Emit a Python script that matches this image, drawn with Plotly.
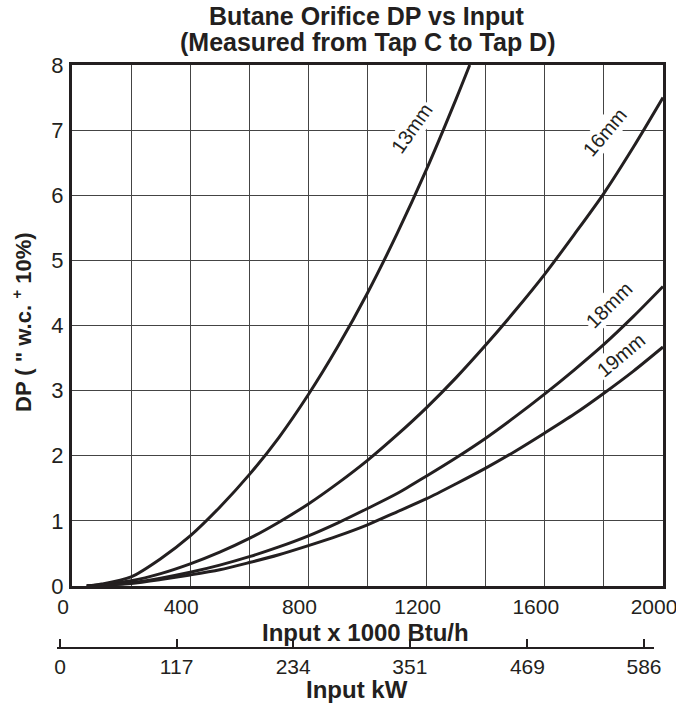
import plotly.graph_objects as go

# ---------------- data ----------------
btu_13 = [50, 100, 200, 300, 400, 500, 600, 700, 800, 900, 1000, 1100, 1200, 1300, 1346]
dp_13 = [0.0, 0.03, 0.14, 0.42, 0.77, 1.21, 1.71, 2.28, 2.94, 3.68, 4.50, 5.41, 6.40, 7.48, 8.0]

btu_all = [50, 100, 200, 300, 400, 500, 600, 700, 800, 900, 1000,
           1100, 1200, 1300, 1400, 1500, 1600, 1700, 1800, 1900, 2000]
dp_16 = [0.0, 0.02, 0.08, 0.19, 0.34, 0.52, 0.73, 0.98, 1.26, 1.58, 1.93,
         2.32, 2.74, 3.20, 3.70, 4.23, 4.79, 5.40, 6.03, 6.74, 7.50]
dp_18 = [0.0, 0.01, 0.05, 0.12, 0.21, 0.32, 0.45, 0.60, 0.77, 0.97, 1.19,
         1.42, 1.69, 1.97, 2.27, 2.60, 2.95, 3.32, 3.71, 4.14, 4.60]
dp_19 = [0.0, 0.01, 0.04, 0.10, 0.17, 0.25, 0.36, 0.48, 0.62, 0.77, 0.94,
         1.14, 1.34, 1.57, 1.81, 2.07, 2.35, 2.64, 2.96, 3.30, 3.67]

series_names = ["13mm", "16mm", "18mm", "19mm"]
label_btu = [1151, 1804, 1817, 1858]
label_dp = [7.03, 6.97, 4.32, 3.55]
label_angle = [-55, -50, -45, -40]

btu_ticks = [0, 400, 800, 1200, 1600, 2000]
kw_ticks = [0, 117, 234, 351, 469, 586]
dp_ticks = [0, 1, 2, 3, 4, 5, 6, 7, 8]

title_lines = ["Butane Orifice DP vs Input", "(Measured from Tap C to Tap D)"]

# ---------------- layout helpers ----------------
W, H = 676, 715
FONT = "Liberation Sans, Arial, sans-serif"
INK = "#231f20"
GRID = "#444444"

def fx(p):
    return p / W

def fy(p):
    return 1 - p / H

PL, PR, PT, PB = 72, 663, 65, 586

fig = go.Figure()
xs = [btu_13, btu_all, btu_all, btu_all]
ys = [dp_13, dp_16, dp_18, dp_19]
for name, x, y in zip(series_names, xs, ys):
    fig.add_trace(go.Scatter(x=x, y=y, mode="lines", name=name,
                             line=dict(color=INK, width=3, shape="spline", smoothing=0.8),
                             showlegend=False, hoverinfo="skip"))

# invisible trace to carry the kW axis
fig.add_trace(go.Scatter(x=[kw_ticks[0], kw_ticks[-1]], y=[0, 0], xaxis="x2", yaxis="y2",
                         mode="markers", marker=dict(size=1, opacity=0),
                         showlegend=False, hoverinfo="skip"))

for name, qx, qy, ang in zip(series_names, label_btu, label_dp, label_angle):
    fig.add_annotation(x=qx, y=qy, xref="x", yref="y", text=name, textangle=ang,
                       xanchor="center", yanchor="middle",
                       showarrow=False, font=dict(family=FONT, size=20, color=INK),
                       bgcolor="white", borderpad=1)

def paper_text(txt, xc, yc, size, angle=0):
    fig.add_annotation(x=fx(xc), y=fy(yc), xref="paper", yref="paper",
                       xanchor="center", yanchor="middle", textangle=angle,
                       text=txt, showarrow=False,
                       font=dict(family=FONT, size=size, color=INK))

# chart title (two lines)
paper_text("<b>" + title_lines[0] + "</b>", 367, 16, 25)
paper_text("<b>" + title_lines[1] + "</b>", 367, 42, 25)

paper_text("<b>DP ( \" w.c. <sup>+</sup> 10%)</b>", 22, 322, 22, angle=-90)
paper_text("<b>Input x 1000 Btu/h</b>", 365, 632, 24)
paper_text("<b>Input kW</b>", 357, 689, 24)

fig.update_layout(
    width=W, height=H,
    margin=dict(l=0, r=0, t=0, b=0, autoexpand=False),
    paper_bgcolor="white", plot_bgcolor="white",
    xaxis=dict(domain=[fx(PL), fx(PR)], range=[0, 2000], tickvals=btu_ticks,
               showgrid=True, gridcolor=GRID, gridwidth=1,
               minor=dict(dtick=200, tick0=0, showgrid=True, gridcolor=GRID, gridwidth=1, ticks=""),
               showline=True, linecolor=INK, linewidth=3, mirror=True,
               zeroline=False, ticks="", ticklabelstandoff=0, ticklabelshift=-9,
               ticklabeloverflow="allow",
               tickfont=dict(family=FONT, size=21, color=INK), automargin=False,
               fixedrange=True),
    yaxis=dict(domain=[fy(PB), fy(PT)], range=[0, 8], tickvals=dp_ticks,
               showgrid=True, gridcolor=GRID, gridwidth=1,
               showline=True, linecolor=INK, linewidth=3, mirror=True,
               zeroline=False, ticks="", ticklabelstandoff=1,
               ticklabeloverflow="allow",
               tickfont=dict(family=FONT, size=22, color=INK), automargin=False,
               fixedrange=True),
    xaxis2=dict(domain=[fx(57), fx(654)], range=[-3, 596], anchor="y2",
                tickvals=kw_ticks, ticks="inside", ticklen=8, tickwidth=1.5, tickcolor=INK,
                showline=True, linecolor=INK, linewidth=1.5, showgrid=False, zeroline=False,
                ticklabelstandoff=0, ticklabeloverflow="allow",
                tickfont=dict(family=FONT, size=21, color=INK), automargin=False,
                fixedrange=True),
    yaxis2=dict(domain=[fy(647), fy(640)], range=[0, 1], anchor="x2", visible=False,
                showgrid=False, zeroline=False, fixedrange=True),
)

fig.write_html("out.html")
